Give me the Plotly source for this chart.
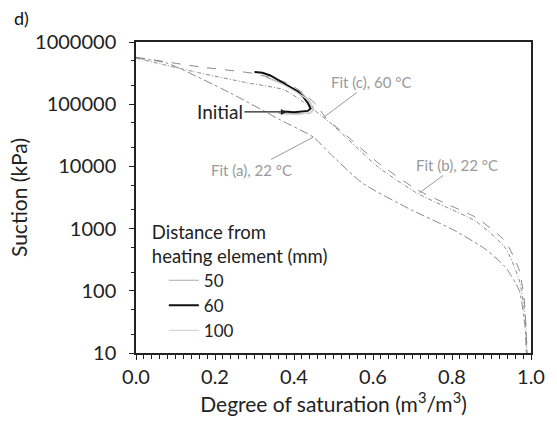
import numpy as np
import plotly.graph_objects as go

# ---- data (degree of saturation, suction kPa) ----
fit_a_s = [0.0, 0.077, 0.24, 0.365, 0.449, 0.489, 0.573, 0.697, 0.804, 0.886, 0.935, 0.970, 0.985, 0.988]
fit_a_p = [5.5e5, 4.6e5, 1.5e5, 5.6e4, 2.95e4, 1.66e4, 5.4e3, 2.0e3, 950, 460, 240, 102, 26, 10]

fit_b_s = [0.0, 0.159, 0.283, 0.375, 0.424, 0.489, 0.613, 0.712, 0.78, 0.861, 0.935, 0.970, 0.985, 0.990]
fit_b_p = [5.5e5, 3.2e5, 2.2e5, 1.7e5, 1.08e5, 5.2e4, 9.8e3, 3.7e3, 2.3e3, 1.3e3, 490, 150, 41, 10]

fit_c_s = [0.0, 0.159, 0.300, 0.382, 0.424, 0.457, 0.481, 0.531, 0.613, 0.712, 0.78, 0.861, 0.935, 0.970, 0.983, 0.990]
fit_c_p = [5.7e5, 4.0e5, 3.1e5, 2.2e5, 1.5e5, 9.7e4, 6.0e4, 3.2e4, 1.14e4, 4.2e3, 2.6e3, 1.5e3, 620, 216, 71, 10]

d50_s = [0.36, 0.40, 0.44, 0.45, 0.44, 0.42, 0.39, 0.36, 0.33]
d50_p = [7.2e4, 7.0e4, 7.2e4, 8.2e4, 1.1e5, 1.5e5, 1.9e5, 2.3e5, 2.7e5]

d60_s = [0.375, 0.40, 0.435, 0.442, 0.435, 0.424, 0.41, 0.39, 0.36, 0.34, 0.32, 0.30]
d60_p = [7.6e4, 7.4e4, 7.8e4, 8.5e4, 1.05e5, 1.3e5, 1.6e5, 1.9e5, 2.4e5, 2.9e5, 3.2e5, 3.3e5]

d100_s = [0.37, 0.41, 0.445, 0.45, 0.43, 0.40, 0.37, 0.34]
d100_p = [7.0e4, 6.8e4, 7.4e4, 9.0e4, 1.25e5, 1.65e5, 2.1e5, 2.5e5]

y_tickvals = [10, 100, 1000, 10000, 100000, 1000000]
y_ticktext = ["10", "100", "1000", "10000", "100000", "1000000"]
x_tickvals = [0.0, 0.2, 0.4, 0.6, 0.8, 1.0]
x_ticktext = ["0.0", "0.2", "0.4", "0.6", "0.8", "1.0"]

FONT = "Lato"
fig = go.Figure()

fig.add_trace(go.Scatter(x=fit_a_s, y=fit_a_p, mode="lines", line=dict(color="#8a8a8a", width=1, dash="dashdot", shape="spline", smoothing=0.6), showlegend=False))
fig.add_trace(go.Scatter(x=fit_b_s, y=fit_b_p, mode="lines", line=dict(color="#8a8a8a", width=1, dash="4px,2px,1px,2px", shape="spline", smoothing=0.6), showlegend=False))
fig.add_trace(go.Scatter(x=fit_c_s, y=fit_c_p, mode="lines", line=dict(color="#8a8a8a", width=1, dash="dash", shape="spline", smoothing=0.6), showlegend=False))

fig.add_trace(go.Scatter(x=d50_s, y=d50_p, mode="lines", name="50", line=dict(color="#a8a8a8", width=1.2)))
fig.add_trace(go.Scatter(x=d60_s, y=d60_p, mode="lines", name="60", line=dict(color="#111111", width=2)))
fig.add_trace(go.Scatter(x=d100_s, y=d100_p, mode="lines", name="100", line=dict(color="#d6d6d6", width=1.2)))

ann_gray = dict(size=15, color="#9a9a9a", family=FONT)
annotations = [
    dict(x=0.382, y=np.log10(7.5e4), text="Initial", showarrow=True, arrowhead=2, arrowsize=1, arrowwidth=1.2,
         arrowcolor="#222", ax=-67, ay=0, font=dict(size=19, color="#222", family=FONT)),
    dict(x=0.476, y=4.794, text="Fit (c), 60 °C", showarrow=True, arrowhead=0, arrowwidth=1,
         arrowcolor="#999", ax=47, ay=-35, font=ann_gray),
    dict(x=0.717, y=3.572, text="Fit (b), 22 °C", showarrow=True, arrowhead=0, arrowwidth=1,
         arrowcolor="#999", ax=38, ay=-28, font=ann_gray),
    dict(x=0.449, y=4.473, text="Fit (a), 22 °C", showarrow=True, arrowhead=0, arrowwidth=1,
         arrowcolor="#999", ax=-62, ay=33, font=ann_gray),
    dict(xref="paper", yref="paper", x=-0.315, y=1.077, xanchor="left", yanchor="middle", text="d)",
         showarrow=False, font=dict(size=18, color="#111", family=FONT)),
]

axis_common = dict(showline=True, linecolor="#222", linewidth=1.5, mirror=True, showgrid=False, zeroline=False,
                   ticks="outside", ticklen=5, tickcolor="#222", tickfont=dict(size=20, color="#222", family=FONT))

fig.update_layout(
    width=557, height=424,
    margin=dict(l=136, r=18, t=42, b=71),
    paper_bgcolor="white", plot_bgcolor="white",
    font=dict(family=FONT, color="#222"),
    annotations=annotations,
    legend=dict(x=0.035, y=0.445, xanchor="left", yanchor="top", bgcolor="rgba(0,0,0,0)", indentation=14,
                title=dict(text="Distance from<br>heating element (mm)", font=dict(size=18.5, family=FONT, color="#222")),
                font=dict(size=17, family=FONT, color="#222"), tracegroupgap=0, itemwidth=30),
    xaxis=dict(range=[0, 1], tickvals=x_tickvals, ticktext=x_ticktext,
               minor=dict(dtick=0.02, ticks="outside", ticklen=4, tickcolor="#222"),
               title=dict(text="Degree of saturation (m<sup>3</sup>/m<sup>3</sup>)", font=dict(size=21, family=FONT), standoff=4),
               **axis_common),
    yaxis=dict(type="log", range=[1, 6], tickvals=y_tickvals, ticktext=y_ticktext,
               minor=dict(ticks="outside", ticklen=3, tickcolor="#222"),
               title=dict(text="Suction (kPa)", font=dict(size=21, family=FONT), standoff=2),
               ticklabelstandoff=9,
               **axis_common),
)

fig.write_html("out.html")
